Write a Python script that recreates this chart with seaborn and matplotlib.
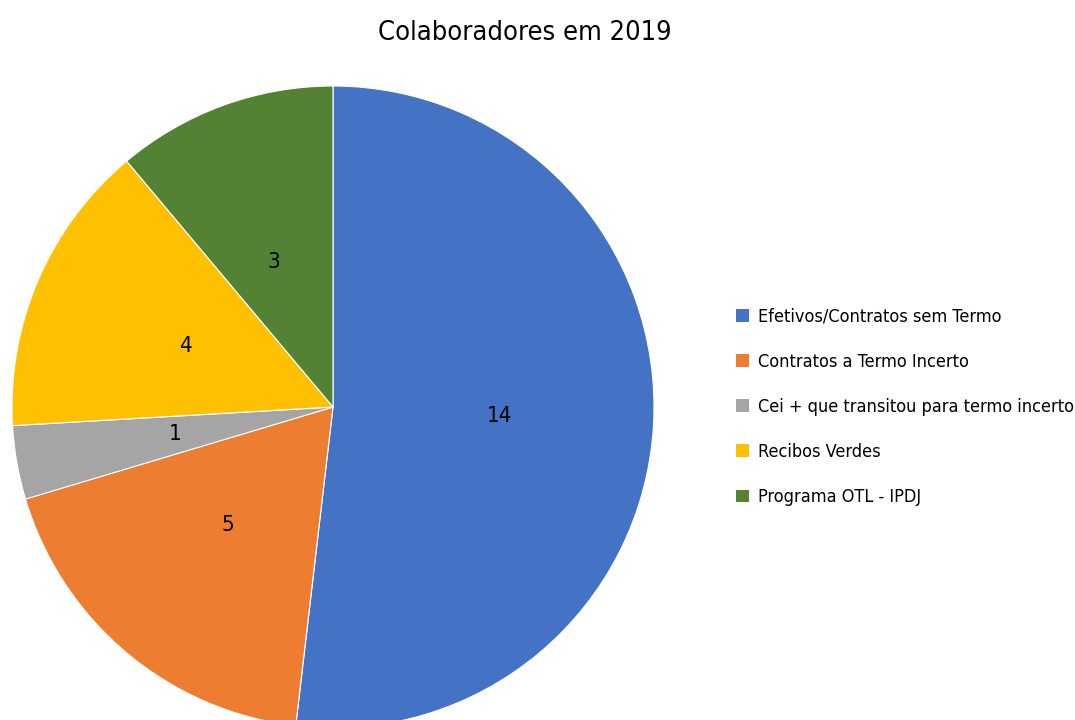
import matplotlib
matplotlib.use("Agg")
import matplotlib.pyplot as plt
import seaborn as sns
from matplotlib.patches import Patch

# dados
categorias = ["Efetivos/Contratos sem Termo", "Contratos a Termo Incerto",
              "Cei + que transitou para termo incerto", "Recibos Verdes",
              "Programa OTL - IPDJ"]
valores = [14, 5, 1, 4, 3]
cores = ["#4472C4", "#ED7D31", "#A5A5A5", "#FFC000", "#548235"]
titulo = "Colaboradores em 2019"

sns.set_theme(style="white")
plt.rcParams["font.family"] = ["DejaVu Sans"]
plt.rcParams["font.stretch"] = "condensed"
plt.rcParams["text.color"] = "black"

fig = plt.figure(figsize=(10.75, 7.2), dpi=100)
W, H = 1075, 720
cx, cy, r = 333, 407, 321
ax = fig.add_axes([(cx - r) / W, (H - cy - r) / H, 2 * r / W, 2 * r / H])

fatias, textos = ax.pie(valores, colors=cores, startangle=90, counterclock=False,
                        labels=[str(v) for v in valores], labeldistance=0.48,
                        wedgeprops=dict(linewidth=0.8, edgecolor="white"),
                        textprops=dict(fontsize=16, color="black", stretch="condensed"))
for w in fatias:
    w.set_clip_on(False)
ax.set_xlim(-1, 1)
ax.set_ylim(-1, 1)
ax.set_aspect("equal")
ax.axis("off")

fig.text(525 / W, 1 - 33 / H, titulo, ha="center", va="center", fontsize=19.5,
         stretch="condensed")

handles = [Patch(facecolor=c, edgecolor="none") for c in cores]
leg = fig.legend(handles, categorias, loc="center left", bbox_to_anchor=(720 / W, 1 - 407 / H),
                 frameon=False, prop=dict(size=13, stretch="condensed"),
                 handlelength=0.7, handleheight=0.7,
                 handletextpad=0.5, labelspacing=1.5)

fig.savefig("out.png", dpi=100)
